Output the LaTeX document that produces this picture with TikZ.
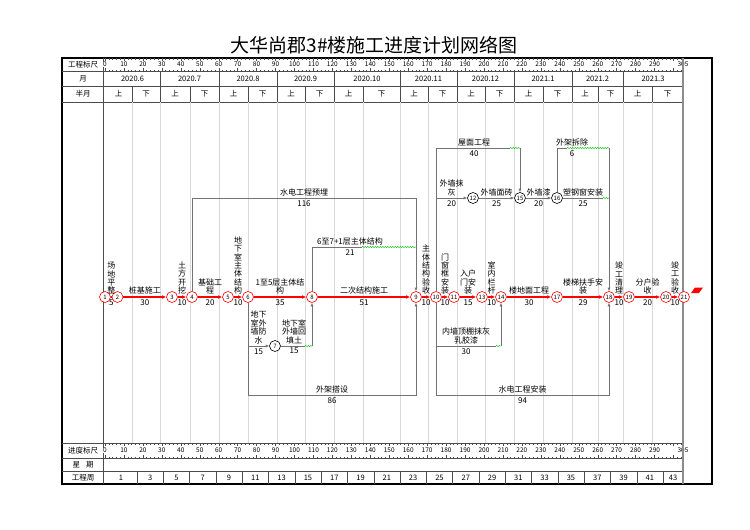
\documentclass[tikz,border=0pt]{standalone}
\usepackage{fontspec}
\setmainfont{Noto Sans CJK SC}
\usetikzlibrary{arrows.meta,positioning,decorations.pathmorphing}

\begin{document}
\begin{tikzpicture}[
    x=1pt, y=-1pt,
    font=\fontsize{8}{8.4}\selectfont,
    evt/.style={circle, draw=red, fill=white, line width=0.6pt, inner sep=0pt, minimum size=11pt, font=\fontsize{6}{6}\selectfont},
    evtn/.style={evt, draw=black},
    crit/.style={->, >={Latex[length=4pt,width=3.6pt]}, red, line width=1.3pt},
    work/.style={->, >={Latex[length=3.5pt,width=3pt]}, black!55, line width=0.6pt},
    float/.style={green!75!black, line width=0.5pt, decorate, decoration={snake, amplitude=0.5pt, segment length=2.5pt}},
    lab/.style={inner sep=2pt, align=center, text=black},
    head/.style={font=\fontsize{7.5}{8}\selectfont, inner sep=1pt},
    scal/.style={font=\fontsize{6.5}{7}\selectfont, inner sep=0.5pt},
    grid/.style={black!15, line width=0.4pt},
    hline/.style={black!70, line width=0.4pt}
]
\useasboundingbox (0,0) rectangle (750,530);

% --- Title and frame ---
\node[font=\fontsize{19}{20}\selectfont] (title) at (374,45) {大华尚郡3\#楼施工进度计划网络图};

\draw[line width=1.2pt] (62,58) rectangle (712,484);
\draw[hline] (103,58) -- (103,484);
\foreach \y in {71,86,102,443,458,471}
    \draw[hline] (62,\y) -- (683,\y);

% row titles
\node[head] (r1) at (83,64.5) {工程标尺};
\node[head] (r2) at (83,78.5) {月};
\node[head] (r3) at (83,94) {半月};
\node[head] (r4) at (83,450.5) {进度标尺};
\node[head] (r5) at (83,464.5) {星\hspace{6pt}期};
\node[head] (r6) at (83,477.5) {工程周};

% --- Rulers ---
\foreach \d in {0,2,...,304} {
    \draw[hline] ({105+1.895*\d},58) -- ++(0,1.5);
    \draw[hline] ({105+1.895*\d},71) -- ++(0,-1.5);
    \draw[hline] ({105+1.895*\d},443) -- ++(0,1.5);
    \draw[hline] ({105+1.895*\d},458) -- ++(0,-1.5);
}
\foreach \d in {0,10,...,300} {
    \draw[hline] ({105+1.895*\d},58) -- ++(0,3);
    \draw[hline] ({105+1.895*\d},71) -- ++(0,-3);
    \draw[hline] ({105+1.895*\d},443) -- ++(0,3);
    \draw[hline] ({105+1.895*\d},458) -- ++(0,-3);
}
\foreach \d in {0,10,...,290} {
    \node[scal, fill=white] (st\d) at ({105+1.895*\d},64.5) {\d};
    \node[scal, fill=white] (sb\d) at ({105+1.895*\d},450.5) {\d};
}
\node[scal, fill=white] (st305) at (683,64.5) {305};
\node[scal, fill=white] (sb305) at (683,450.5) {305};

% --- Months and half months ---
\foreach \m/\s/\h/\e [count=\i] in {2020.6/105/132/160, 2020.7/160/190/219, 2020.8/219/248/277,
        2020.9/277/305/334, 2020.10/334/363/400, 2020.11/400/428/457, 2020.12/457/485/514,
        2021.1/514/543/572, 2021.2/572/598/623, 2021.3/623/652/683} {
    \node[head] (mon\i) at ({(\s+\e)/2},78.5) {\m};
    \node[head] (hu\i) at ({(\s+\h)/2},94) {上};
    \node[head] (hd\i) at ({(\h+\e)/2},94) {下};
    \draw[hline] (\h,86) -- (\h,102);
    \draw[hline] (\e,71) -- (\e,102);
    \draw[grid] (\h,102) -- (\h,443);
    \draw[grid] (\e,102) -- (\e,443);
}
\draw[black!45, line width=1.2pt] (683,58) -- (683,484);

% --- Project weeks ---
\node[head] (w1) at (121,477.5) {1};
\foreach \k [evaluate=\k as \wk using int(2*\k+3)] in {0,...,19} {
    \draw[hline] ({137+26.3*\k},471) -- ({137+26.3*\k},484);
    \node[head] (w\wk) at ({150.15+26.3*\k},477.5) {\wk};
}
\draw[hline] (663,471) -- (663,484);
\node[head] (w43) at (673,477.5) {43};

% --- Events ---
\node[evt] (n1) at (105,297) {1};
\node[evt] (n2) at (117.5,297) {2};
\node[evt] (n3) at (172,297) {3};
\node[evt] (n4) at (192,297) {4};
\node[evt] (n5) at (228,297) {5};
\node[evt] (n6) at (248,297) {6};
\node[evtn] (n7) at (275,346) {7};
\node[evt] (n8) at (312,297) {8};
\node[evt] (n9) at (416,297) {9};
\node[evt] (n10) at (436,297) {10};
\node[evt] (n11) at (454,297) {11};
\node[evtn] (n12) at (473,198) {12};
\node[evt] (n13) at (482,297) {13};
\node[evt] (n14) at (501,297) {14};
\node[evtn] (n15) at (520,198) {15};
\node[evtn] (n16) at (557,198) {16};
\node[evt] (n17) at (557,297) {17};
\node[evt] (n18) at (609,297) {18};
\node[evt] (n19) at (629,297) {19};
\node[evt] (n20) at (666,297) {20};
\node[evt] (n21) at (684,297) {21};
\fill[red] (691,293) -- (695,287.5) -- (703,287.5) -- (699,293) -- cycle;

% --- Critical path ---
\draw[crit, -] (n1) -- (n2) node[lab, midway, above] (l1) {场\\地\\平\\整} node[lab, midway, below] (d1) {5};
\draw[crit] (n2) -- (n3) node[lab, midway, above] (l2) {桩基施工} node[lab, midway, below] (d2) {30};
\draw[crit] (n3) -- (n4) node[lab, midway, above] (l3) {土\\方\\开\\挖} node[lab, midway, below] (d3) {10};
\draw[crit] (n4) -- (n5) node[lab, midway, above] (l4) {基础工\\程} node[lab, midway, below] (d4) {20};
\draw[crit] (n5) -- (n6) node[lab, midway, above] (l5) {地\\下\\室\\主\\体\\结\\构} node[lab, midway, below] (d5) {10};
\draw[crit] (n6) -- (n8) node[lab, midway, above] (l6) {1至5层主体结\\构} node[lab, midway, below] (d6) {35};
\draw[crit] (n8) -- (n9) node[lab, midway, above] (l8) {二次结构施工} node[lab, midway, below] (d8) {51};
\draw[crit] (n9) -- (n10) node[lab, midway, above] (l9) {主\\体\\结\\构\\验\\收} node[lab, midway, below] (d9) {10};
\draw[crit] (n10) -- (n11) node[lab, midway, above] (l10) {门\\窗\\框\\安\\装} node[lab, midway, below] (d10) {10};
\draw[crit] (n11) -- (n13) node[lab, midway, above] (l11) {入户\\门安\\装} node[lab, midway, below] (d11) {15};
\draw[crit] (n13) -- (n14) node[lab, midway, above] (l13) {室\\内\\栏\\杆} node[lab, midway, below] (d13) {10};
\draw[crit] (n14) -- (n17) node[lab, midway, above] (l14) {楼地面工程} node[lab, midway, below] (d14) {30};
\draw[crit] (n17) -- (n18) node[lab, midway, above] (l17) {楼梯扶手安\\装} node[lab, midway, below] (d17) {29};
\draw[crit] (n18) -- (n19) node[lab, midway, above] (l18) {竣\\工\\清\\理} node[lab, midway, below] (d18) {10};
\draw[crit] (n19) -- (n20) node[lab, midway, above] (l19) {分户验\\收} node[lab, midway, below] (d19) {20};
\draw[crit] (n20) -- (n21) node[lab, midway, above] (l20) {竣\\工\\验\\收} node[lab, midway, below] (d20) {10};

% --- Other works ---
% 水电工程预埋
\coordinate (a1) at (416,198);
\draw[work] (n4) |- (a1) node[lab, pos=0.75, above] (la) {水电工程预埋} node[lab, pos=0.75, below] (da) {116} -- (n9);

% 6至7+1层主体结构
\coordinate (b1) at (362,247);
\coordinate (b2) at (416,247);
\draw[work, -] (n8) |- (b1);
\draw[float] (b1) -- (b2);
\node[lab, above] (lb) at (350,247) {6至7+1层主体结构};
\node[lab, below] (db) at (350,247) {21};

% basement walls
\draw[work] (n6) |- (n7) node[lab, pos=0.75, above] (lc) {地下\\室外\\墙防\\水} node[lab, pos=0.75, below] (dc) {15};
\coordinate (c1) at (305,346);
\coordinate (c2) at (312,346);
\draw[work, -] (n7) -- (c1);
\draw[float] (c1) -- (c2);
\draw[work] (c2) -- (n8);
\node[lab, above] (lc2) at (294,346) {地下室\\外墙回\\填土};
\node[lab, below] (dc2) at (294,346) {15};

% 外架搭设
\coordinate (e1) at (416,395);
\draw[work] (n6) |- (e1) node[lab, pos=0.75, above] (le) {外架搭设} node[lab, pos=0.75, below] (de) {86} -- (n9);

% 屋面工程
\coordinate (f1) at (510,148);
\coordinate (f2) at (520,148);
\draw[work, -] (n10) |- (f1);
\draw[float] (f1) -- (f2);
\draw[work] (f2) -- (n15);
\node[lab, above] (lf) at (474,148) {屋面工程};
\node[lab, below] (df) at (474,148) {40};

% facade
\coordinate (g0) at (436,198);
\draw[work] (g0) -- (n12) node[lab, midway, above] (lg) {外墙抹\\灰} node[lab, midway, below] (dg) {20};
\draw[work] (n12) -- (n15) node[lab, midway, above] (lg2) {外墙面砖} node[lab, midway, below] (dg2) {25};
\draw[work] (n15) -- (n16) node[lab, midway, above] (lg3) {外墙漆} node[lab, midway, below] (dg3) {20};
\coordinate (h1) at (603,198);
\coordinate (h2) at (609,198);
\draw[work, -] (n16) -- (h1);
\draw[float] (h1) -- (h2);
\node[lab, above] (lh) at (583,198) {塑钢窗安装};
\node[lab, below] (dh) at (583,198) {25};

% 外架拆除
\coordinate (i1) at (567,148);
\coordinate (i2) at (609,148);
\draw[work, -] (n16) |- (i1);
\draw[float] (i1) -- (i2);
\draw[work] (i2) -- (n18);
\node[lab, above] (li) at (572,148) {外架拆除};
\node[lab, below] (di) at (572,148) {6};

% 内墙顶棚
\coordinate (j1) at (496,346);
\coordinate (j2) at (501,346);
\draw[work, -] (n10) |- (j1) node[lab, pos=0.75, above] (lj) {内墙顶棚抹灰\\乳胶漆} node[lab, pos=0.75, below] (dj) {30};
\draw[float] (j1) -- (j2);
\draw[work] (j2) -- (n14);

% 水电工程安装
\coordinate (k1) at (609,395);
\draw[work] (n10) |- (k1) node[lab, pos=0.75, above] (lk) {水电工程安装} node[lab, pos=0.75, below] (dk) {94} -- (n18);

\end{tikzpicture}
\end{document}
